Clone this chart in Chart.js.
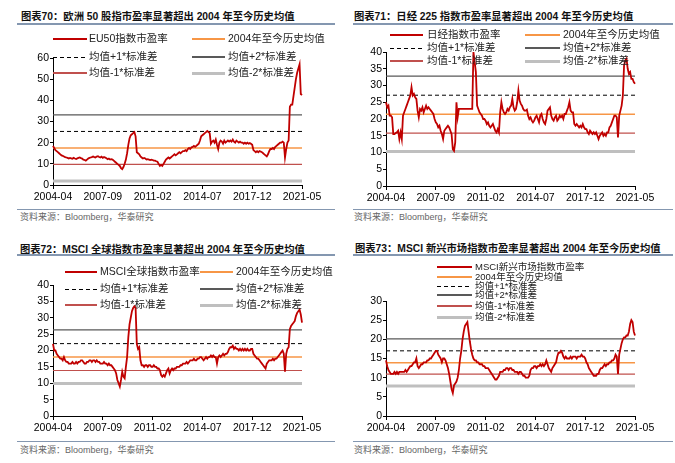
<!DOCTYPE html>
<html><head><meta charset="utf-8">
<script src="https://cdn.jsdelivr.net/npm/chart.js@4.4.0/dist/chart.umd.min.js"></script>
<style>
html,body{margin:0;padding:0;background:#fff;}
body{width:675px;height:463px;position:relative;overflow:hidden;font-family:"Liberation Sans","Noto Sans CJK SC",sans-serif;}
.title{position:absolute;font-weight:bold;font-size:10.3px;color:#111;white-space:nowrap;line-height:12px;}
.rule{position:absolute;height:0;border-top:2px solid #8497B0;}
.rule2{position:absolute;height:0;border-top:1px solid #8497B0;}
.src{position:absolute;font-size:9px;color:#666;white-space:nowrap;line-height:10px;}
.leg{position:absolute;font-size:10.5px;white-space:nowrap;line-height:12px;color:#222;}
.sw{position:absolute;}
canvas{position:absolute;}
</style></head>
<body>
<script>
// ---------- categories ----------
const months = [];
(function(){ let y=2004, m=4; while(!(y===2021 && m===6)){ months.push(y+'-'+String(m).padStart(2,'0')); m++; if(m>12){m=1;y++;} } })();
const tickLabels = ['2004-04','2007-09','2011-02','2014-07','2017-12','2021-05'];

// ---------- series values (monthly) ----------
const eu50PE = [
18.5,17.5,16.5,16,15.5,15,14.5,14,13.8,13.5,13.2,13,
12.8,12.5,12.8,12.6,12.4,12.8,12.5,12.3,12.6,12.8,13,12.7,
12.5,12,11.8,11.5,12,12.5,12.8,13,13.2,13.5,13.2,13,
13.4,13.6,13.2,13,13.4,12.8,13.2,13,12.6,12.2,12.5,12,
12.2,12,11.5,11,10.5,10,9.5,9,8,7.5,8.5,10,
12,15,19,22,23.5,24,24.5,25,23,15.5,15,14.5,
13.5,13,12.5,12.8,12.5,12,12.2,12,11.8,12,11.8,11.5,
11.5,11.2,11,10,9,9.5,9,10,11,12,12.5,13,
12.5,13,13.5,14,14.5,14,14.5,15,15.5,15,15.5,16,
16,16.5,16,17,17.5,17,17.8,18,18.5,18,18.5,19,
19.5,21,23,23.5,24,24.5,25,25.5,25,24.5,19.5,20.5,
21,20,21.5,19,17,20,21,20.5,19.5,21,20,20.5,
21,20.5,21,20.5,21.5,20.5,20,21,20.5,20,20.5,20,
20,19.5,20,19.5,20,19.5,19.8,19.5,19,16.5,16,15.5,
16,15.5,16,15.8,15.5,15,14.5,14,13.5,14.5,16,17,
17,17.5,17,18,18.5,19,19.5,20,20,20.5,20,13,
17,20,21,37,38,38,42,46,50,53,55,57,43,42.5];

const nikkeiPE = [
25,23.5,24,21,21,20.5,15.5,15.5,15.8,16,16.5,14,
16,14,21,22,23,24,25,26,27,29.5,27,27.5,
26.5,26,22.5,20.5,23,22.5,23.5,22,23,24,23,23.5,
23,22.5,22,21.5,20,19,18.5,17.5,18,16.5,15.5,14,
16.5,17,17.5,18,17.5,16.5,15.5,11,10.5,13,25,20.5,
23,23,23,23,23,23,23,23,23,23,23,23,
40,37,34,24,23,22,21.5,21,20,20,19.5,18.5,
19,18,17.5,18,18.5,17.5,16.5,16,17,16,22,25,
23,22,21.5,22,23,22.5,23.5,24,26,23.5,22.5,23,
25,28.5,25.5,24.5,24,23,22.5,22.5,22.8,21,20,20.5,
19.5,19,19.5,20.5,21,20,19,21,21.5,20,19,18.5,
20,22.5,23,23.5,21,20,19.5,20.5,21,19.5,20,21,
20.5,21,20,21.5,21.5,22.5,23.5,25,22.5,22,22,18.5,
18,18.5,18,17.5,18,17.5,18.5,17.5,17,17,16,15.5,
16.5,16,15.5,16,15.5,16,15,14,15,15.5,16,15,
15.5,15,16,16,17.5,18,19,20,21,21,20.5,14.5,
21,22.5,24,27,36,37.5,38,35,33.5,34,32,32,31,30.5];

const msciWorldPE = [
22,20,20,19,18.5,18,17.5,17.5,17,18,17,16.5,
16.5,16,16,16,16.5,16,16,16.5,16,16.5,16.5,17,
17,16.5,16,16,16.5,16.5,17,17,16.5,17,17,16.5,
17,16.5,16.5,16,16,16,16.5,16,16,15.5,16,15.5,
15.5,15,14.5,14,13,11,10,9,11,13.5,12,11.5,
15,18,24,28,30,32,33,33.5,33,22,20.5,21,
17,15.5,15.5,15,15.5,15.5,15,15.5,15.5,15,15,15.5,
15,15,14.5,14.5,14,12.5,12,12.5,12,13,14,14.5,
13,14,14.5,14,14.5,14.5,15,15,15,15.5,15.5,16,
16,16,16.5,16,16.5,17,17,17,17.5,17,17,17.5,
17.5,18,18,17.5,17,17.5,18,17.5,18,18,18.5,18,
18.5,18,18,16,18,18.5,18,18.5,19,18.5,19,19,
19.5,20.5,21,21,21.5,20.5,21,20.5,20.5,20,20.5,20,
20.5,20,20.5,20,20.5,20,20,20.5,20.5,19,18.5,18,
17.5,17.5,17,16.5,16,15.5,15,14.5,16,16.5,17,17,
17,17.5,17,17.5,17.5,18,18.5,19,19.5,20,19,13.5,
19,20.5,21,26.5,27.5,28,28.5,29,30.5,31.5,32,32.5,31,28.5];

const msciEmPE = [
14.5,13,12,11.5,11,11,11,11.5,11,11.5,11,11.5,
11.5,11.5,11.5,11.5,12,11.5,12,12.5,13,13,13.5,14,
14,15,13,12.5,13,13.5,13.5,14,14,14,14.5,14.5,
15,15,15.5,16,16.5,17,17,16,15.5,15,14,15,
15,14.5,13.5,12.5,11,9,7,6,8,8.5,9,10,
12,15,17,20,22,23.5,24,24.5,22,19.5,17.5,16,
15,14.5,14.5,14,14,13.5,13.5,13.5,13,13,12.5,12.5,
12.5,12,11.5,11,10.5,10,9.5,9.5,10,10.5,11.5,11.5,
11.5,12,12,12.5,12.5,12,12.5,12.5,12,12,11.5,11.5,
11.5,11,11.5,11.5,11,10.5,10.5,10,10,10,10.5,12,
12.5,12.5,13,13,12.5,13,13,13.5,13,13.5,13,13.5,
14.5,13.5,12.5,12,11.5,12.5,13,13.5,14,15.5,16.5,16.5,
17,16.5,15.5,15,15.5,15,15,15,15.5,15,15.5,15.5,
15.5,15,15.5,15.5,15.5,16,15.5,15.5,15,14,13.5,12.5,
12,11.5,11,10.5,10.5,10.5,11,11,12,12.5,12.5,13,
13.5,13,13.5,13.5,14,14,14.5,14.5,15,16,15.5,11,
16,17.5,19,20,20.5,20.5,21,21,22,24,25,24.5,22,21];

// band levels: mean, +1σ, +2σ, -1σ, -2σ
const eu50Bands      = [17.5, 25.3, 33.1, 9.7, 1.9];
const nikkeiBands    = [21.4, 27.1, 32.8, 15.8, 10.3];
const msciWorldBands = [18.0, 22.1, 26.3, 13.9, 9.9];
const msciEmBands    = [13.9, 17.0, 20.1, 10.9, 7.8];
const bandNames = ['2004年至今历史均值','均值+1*标准差','均值+2*标准差','均值-1*标准差','均值-2*标准差'];

// ---------- styles ----------
const seriesStyle = {color:'#C00000', width:1.8, dash:null};
const bandStyles = [
  {color:'#F79646', width:1.5, dash:null},
  {color:'#000000', width:1,   dash:[4,3]},
  {color:'#595959', width:1.2, dash:null},
  {color:'#C0504D', width:1.2, dash:null},
  {color:'#BFBFBF', width:3,   dash:null}
];

function addDiv(cls, css, text){
  const d=document.createElement('div'); d.className=cls;
  Object.assign(d.style, css); if(text!==undefined) d.textContent=text;
  document.body.appendChild(d); return d;
}

function makePanel(p){
  addDiv('title',{left:p.titleX+'px',top:(p.titleY-6)+'px'},p.title);
  addDiv('rule',{left:p.ruleX1+'px',top:(p.ruleTop-1)+'px',width:(p.ruleX2-p.ruleX1)+'px'});
  addDiv('rule2',{left:p.ruleX1+'px',top:(p.ruleBottom)+'px',width:(p.ruleX2-p.ruleX1)+'px'});
  addDiv('src',{left:p.srcX+'px',top:(p.srcY-5)+'px'},'资料来源：Bloomberg，华泰研究');

  const c=document.createElement('canvas');
  const left=p.L-45, top=p.T-12;
  const w=Math.round(p.R-p.L+70), h=Math.round(p.B-p.T+32);
  c.width=w; c.height=h;
  c.style.left=left+'px'; c.style.top=top+'px';
  c.style.width=w+'px'; c.style.height=h+'px';
  document.body.appendChild(c);

  const n=months.length;
  const datasets=[{
    label:p.seriesName, data:p.values, borderColor:seriesStyle.color,
    borderWidth:seriesStyle.width, pointRadius:0, tension:0, fill:false
  }];
  p.bands.forEach((v,i)=>{
    const s=bandStyles[i];
    datasets.push({label:bandNames[i], data:[{x:months[0],y:v},{x:months[n-1],y:v}],
      borderColor:s.color, borderWidth:s.width, borderDash:s.dash||[], pointRadius:0, fill:false});
  });

  new Chart(c,{
    type:'line',
    data:{labels:months, datasets},
    options:{
      responsive:false, animation:false, devicePixelRatio:window.devicePixelRatio||1,
      layout:{padding:{top:12,right:25,left:0,bottom:0}},
      plugins:{legend:{display:false},tooltip:{enabled:false}},
      scales:{
        x:{type:'category', offset:false,
          afterBuildTicks:s=>{ s.ticks=s.ticks.filter(t=>tickLabels.includes(months[t.value])); },
          afterFit:s=>{ s.height=20; },
          grid:{display:true,drawOnChartArea:false,drawTicks:true,tickLength:4,color:'#000',lineWidth:1},
          border:{display:true,color:'#000',width:1},
          ticks:{autoSkip:false,maxRotation:0,minRotation:0,color:'#000',padding:2,
            font:{family:'Liberation Sans, Arial, sans-serif',size:10.5}}
        },
        y:{min:0,max:p.yMax,
          afterFit:s=>{ s.width=45; },
          grid:{display:true,drawOnChartArea:false,drawTicks:true,tickLength:3,color:'#000',lineWidth:1},
          border:{display:true,color:'#000',width:1},
          ticks:{stepSize:p.step,color:'#000',padding:1,
            font:{family:'Liberation Sans, Arial, sans-serif',size:10.5}}
        }
      }
    }
  });

  const names=[p.seriesName].concat(bandNames);
  const styles=[seriesStyle].concat(bandStyles);
  p.legend.forEach((it,i)=>{
    const s=styles[i]; const [x1,x2,tx,y]=it;
    const sw=Math.min(s.width,3);
    const css={left:x1+'px',top:(y-sw/2)+'px',width:(x2-x1)+'px',height:sw+'px'};
    if(s.dash) css.background='repeating-linear-gradient(90deg,'+s.color+' 0 4px,transparent 4px 7px)';
    else css.background=s.color;
    addDiv('sw',css);
    const fs=p.legFont||10.5;
    addDiv('leg',{left:tx+'px',top:(y-fs*0.62)+'px',fontSize:fs+'px',lineHeight:(fs*1.2)+'px'},names[i]);
  });
}

makePanel({title:'图表70：欧洲 50 股指市盈率显著超出 2004 年至今历史均值', titleX:21, titleY:17,
  ruleX1:17, ruleX2:335, ruleTop:24, ruleBottom:209, srcX:20, srcY:217,
  L:52.7, R:301.7, T:58.3, B:185, yMax:60, step:10,
  seriesName:'EU50指数市盈率', values:eu50PE, bands:eu50Bands,
  legend:[[53,87,89,39],[192,225,228,39],[53,87,89,57],[192,225,228,57],[53,87,89,73],[192,225,228,73]]});

makePanel({title:'图表71：日经 225 指数市盈率显著超出 2004 年至今历史均值', titleX:354, titleY:17,
  ruleX1:353, ruleX2:673, ruleTop:24, ruleBottom:209, srcX:354, srcY:217,
  L:385.7, R:635, T:52.3, B:186, yMax:40, step:5,
  seriesName:'日经指数市盈率', values:nikkeiPE, bands:nikkeiBands,
  legend:[[390,423,427,35],[525,560,563,35],[390,423,427,48],[525,560,563,48],[390,423,427,61],[525,560,563,61]]});

makePanel({title:'图表72：MSCI 全球指数市盈率显著超出 2004 年至今历史均值', titleX:20, titleY:250,
  ruleX1:17, ruleX2:335, ruleTop:255, ruleBottom:441, srcX:20, srcY:450,
  L:52.7, R:301.7, T:285, B:416, yMax:40, step:5,
  seriesName:'MSCI全球指数市盈率', values:msciWorldPE, bands:msciWorldBands,
  legend:[[65,97,100,272],[200,233,236,272],[65,97,100,289],[200,233,236,289],[65,97,100,305],[200,233,236,305]]});

makePanel({title:'图表73：MSCI 新兴市场指数市盈率显著超出 2004 年至今历史均值', titleX:355, titleY:249,
  ruleX1:353, ruleX2:673, ruleTop:255, ruleBottom:441, srcX:354, srcY:450,
  L:385.7, R:635, T:301, B:416, yMax:30, step:5, legFont:9.5,
  seriesName:'MSCI新兴市场指数市盈率', values:msciEmPE, bands:msciEmBands,
  legend:[[437,472,475,267],[437,472,475,277],[437,472,475,286],[437,472,475,295],[437,472,475,306],[437,472,475,317]]});
</script>
</body></html>
